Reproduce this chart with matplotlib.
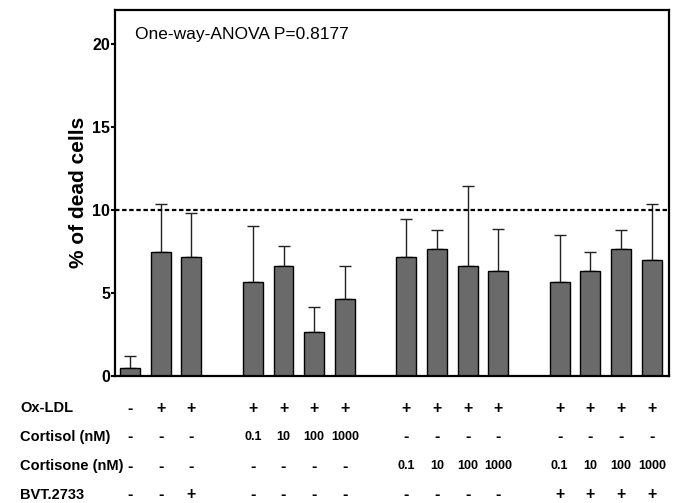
import numpy as np
import matplotlib
matplotlib.use("Agg")
import matplotlib.pyplot as plt
from matplotlib import font_manager
from matplotlib.transforms import blended_transform_factory

# bar heights (% of dead cells) and top of error bar
means = [0.50, 7.49, 7.15, 5.64, 6.65, 2.63, 4.64, 7.15, 7.65, 6.65, 6.31, 5.64, 6.31, 7.65, 6.99]
tops = [1.22, 10.38, 9.82, 9.06, 7.81, 4.16, 6.61, 9.48, 8.82, 11.43, 8.84, 8.47, 7.49, 8.82, 10.38]
# groups of bars, gap between groups
groups = [3, 4, 4, 4]

row_names = ["Ox-LDL", "Cortisol (nM)", "Cortisone (nM)", "BVT.2733"]
oxldl = ["-", "+", "+", "+", "+", "+", "+", "+", "+", "+", "+", "+", "+", "+", "+"]
cortisol = ["-", "-", "-", "0.1", "10", "100", "1000", "-", "-", "-", "-", "-", "-", "-", "-"]
cortisone = ["-", "-", "-", "-", "-", "-", "-", "0.1", "10", "100", "1000", "0.1", "10", "100", "1000"]
bvt = ["-", "-", "+", "-", "-", "-", "-", "-", "-", "-", "-", "+", "+", "+", "+"]

names = {f.name for f in font_manager.fontManager.ttflist}
if "Liberation Sans Narrow" in names:
    nfam, lab_size, val_size, tick_size = "Liberation Sans Narrow", 12, 11, 13
else:
    nfam, lab_size, val_size, tick_size = "Liberation Sans", 10.5, 9, 11.5
plt.rcParams["font.family"] = "Liberation Sans"

# x positions with one empty slot between groups
xpos = []
start = 0
for g in groups:
    xpos += list(range(start, start + g))
    start += g + 1
xpos = np.array(xpos)
means = np.array(means)
errs = np.array(tops) - means

fig = plt.figure(figsize=(6.75, 5.03), dpi=100)
ax = fig.add_axes([0.1704, 0.2525, 0.8207, 0.7285])

ax.bar(xpos, means, width=0.65, color="#6a6a6a", edgecolor="black", linewidth=1, zorder=2)
ax.errorbar(xpos, means, yerr=[np.zeros_like(errs), errs], fmt="none",
            ecolor="#222222", elinewidth=1, capsize=4, capthick=1, zorder=1)
ax.axhline(10, color="black", lw=1.6, ls=(0, (2, 1.2)), zorder=3)

ax.set_xlim(-0.49, 17.56)
ax.set_ylim(0, 22.08)
ax.set_xticks([])
ax.set_yticks([0, 5, 10, 15, 20])
ax.tick_params(axis="y", direction="out", length=3, width=1.5, pad=0.5)
for lbl in ax.get_yticklabels():
    lbl.set_fontweight("bold")
    lbl.set_family(nfam)
    lbl.set_fontsize(tick_size)
for s in ax.spines.values():
    s.set_linewidth(1.6)

ax.set_ylabel("% of dead cells", fontsize=15, fontweight="bold", labelpad=3)
ax.text(135 / 675, 1 - 34.5 / 503, "One-way-ANOVA P=0.8177", transform=fig.transFigure,
        fontsize=12.5, va="center", ha="left")

# treatment table under the axis
trans = blended_transform_factory(ax.transData, fig.transFigure)
row_y = [408, 437, 466, 495]
rows = [oxldl, cortisol, cortisone, bvt]
for name, vals, yp in zip(row_names, rows, row_y):
    yf = 1 - yp / 503
    fig.text(20 / 675, yf, name, fontsize=lab_size, fontweight="bold", family=nfam,
             va="center", ha="left")
    for x, v in zip(xpos, vals):
        ax.text(x, yf, v, transform=trans, fontsize=val_size if v not in "+-" else lab_size + 1,
                fontweight="bold", family=nfam, va="center", ha="center")

fig.savefig("out.png", dpi=100)
